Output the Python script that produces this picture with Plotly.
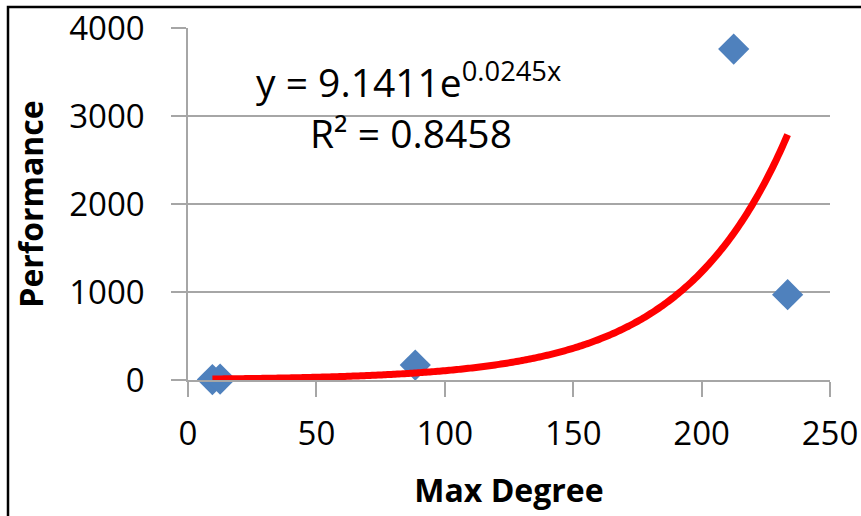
import numpy as np
import plotly.graph_objects as go

# Data
max_degree = [9.5, 12.5, 88.5, 212.5, 233.5]
performance = [5, 10, 170, 3760, 970]

# Exponential trendline as printed on the chart: y = a * e^(b x)
trend_a = 9.1411
trend_b = 0.0245
r_squared = 0.8458

x_ticks = [0, 50, 100, 150, 200, 250]
y_ticks = [0, 1000, 2000, 3000, 4000]

trend_x = np.linspace(min(max_degree), max(max_degree), 300)
trend_y = trend_a * np.exp(trend_b * trend_x)

FONT = "Open Sans"
GRID = "#A6A6A6"

FIG_W, FIG_H = 861, 516
L, T = 188, 28
PW, PH = 642, 352

fig = go.Figure()
fig.add_trace(go.Scatter(
    x=max_degree, y=performance, mode="markers",
    marker=dict(symbol="diamond", size=24, color="#4F81BD",
                line=dict(width=0)),
    cliponaxis=False, showlegend=False,
))
fig.add_trace(go.Scatter(
    x=trend_x, y=trend_y, mode="lines",
    line=dict(color="#FF0000", width=7, simplify=False),
    cliponaxis=False, showlegend=False,
))

fig.add_annotation(
    x=86, y=3410, xref="x", yref="y",
    text=f"y = {trend_a}e<sup>{trend_b}x</sup>",
    showarrow=False, font=dict(family=FONT, size=39, color="#000000"),
)
fig.add_annotation(
    x=87, y=2810, xref="x", yref="y",
    text=f"R² = {r_squared}",
    showarrow=False, font=dict(family=FONT, size=39, color="#000000"),
)

# chart frame (left and top edges visible)
fig.add_shape(type="rect", xref="paper", yref="paper",
              x0=(8 - L) / PW, x1=(FIG_W + 20 - L) / PW,
              y0=(PH + T - FIG_H - 30) / PH, y1=1 + (T - 7) / PH,
              line=dict(color="#000000", width=2.5), layer="below")

fig.update_layout(
    width=FIG_W, height=FIG_H,
    margin=dict(l=L, r=FIG_W - L - PW, t=T, b=FIG_H - T - PH,
                autoexpand=False),
    paper_bgcolor="white", plot_bgcolor="white",
    font=dict(family=FONT, color="#000000"),
)
fig.update_xaxes(
    range=[0, 250], tickvals=x_ticks, ticktext=[str(v) for v in x_ticks],
    showgrid=False, zeroline=False, automargin=False,
    ticklabeloverflow="allow",
    showline=True, linecolor=GRID, linewidth=1.5,
    ticks="outside", ticklen=15, tickcolor=GRID, tickwidth=1.5,
    tickfont=dict(family=FONT, size=33, color="#000000"),
    ticklabelstandoff=9,
    title=dict(text="<b>Max Degree</b>", font=dict(family=FONT, size=32),
               standoff=25),
)
fig.update_yaxes(
    range=[0, 4000], tickvals=y_ticks, ticktext=[str(v) for v in y_ticks],
    showgrid=True, gridcolor=GRID, gridwidth=1.5, zeroline=False,
    automargin=False, ticklabeloverflow="allow",
    showline=True, linecolor=GRID, linewidth=1.5,
    ticks="outside", ticklen=15, tickcolor=GRID, tickwidth=1.5,
    tickfont=dict(family=FONT, size=33, color="#000000"),
    ticklabelstandoff=20,
    title=dict(text="<b>Performance</b>", font=dict(family=FONT, size=32),
               standoff=16),
)

fig.write_html(
    "out.html",
    config={"displayModeBar": False},
    post_script="document.body.style.margin='0px';document.body.style.overflow='hidden';",
)
